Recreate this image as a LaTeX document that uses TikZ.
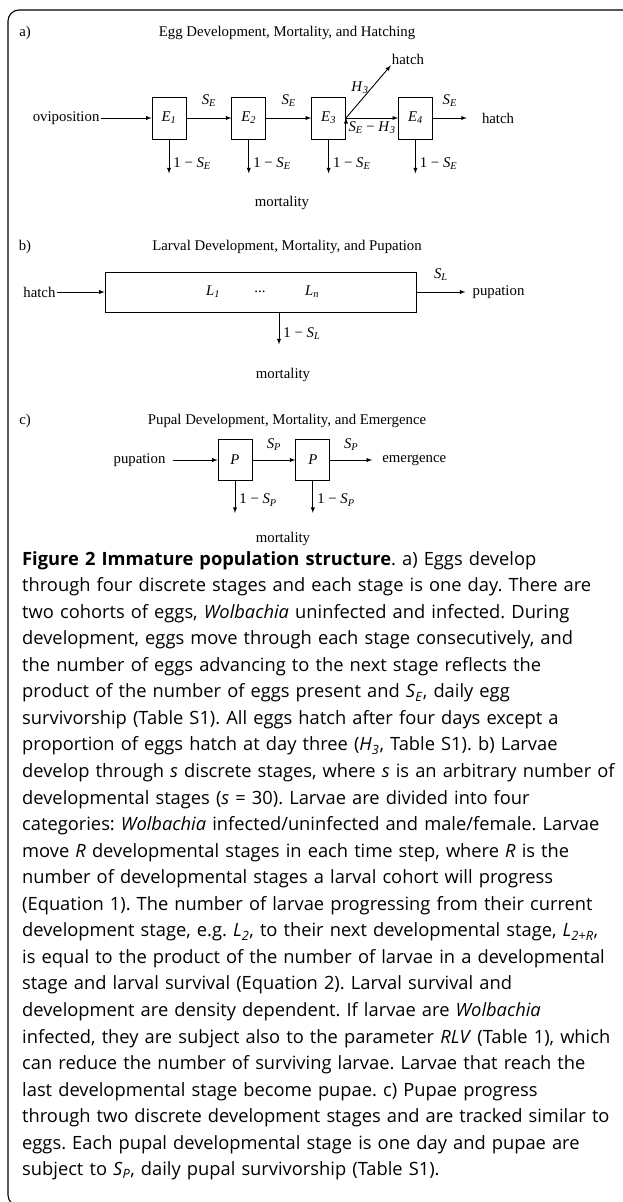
\documentclass[tikz,border=0pt]{standalone}
\usepackage{fontspec}
\setmainfont{Liberation Serif}
\newfontfamily\capfont{Open Sans}
\usetikzlibrary{arrows, positioning}
\newcommand{\qv}[2]{\textit{#1}\textsubscript{\textit{#2}}}

\begin{document}
\begin{tikzpicture}
    [
        x=1pt, y=-1pt, auto, >=latex, font=\fontsize{14.8}{17}\selectfont,
        box/.style={draw, line width=0.8pt, minimum width=34pt, minimum height=42pt, inner sep=0pt},
        longbox/.style={draw, line width=0.8pt, minimum width=311pt, minimum height=40pt, inner sep=0pt},
        txt/.style={inner sep=1pt},
        flowlabel/.style={inner sep=1pt}
    ]
    \tikzstyle{line} = [draw, line width=0.9pt, -latex,>=latex]

    \useasboundingbox (0,0) rectangle (623,1202);
    \draw[line width=1.1pt, rounded corners=11pt] (623,10) -- (8,10) -- (8,1206) -- (40,1206);

    % a) eggs
    \begin{scope}
        \node (lab_a) at (25,33) {a)};
        \node (title_a) at (287,33) {Egg Development, Mortality, and Hatching};
        \node[box] (E_1) at (169,118) {\qv{E}{1}};
        \node[box, right=45pt of E_1] (E_2) {\qv{E}{2}};
        \node[box, right=45pt of E_2] (E_3) {\qv{E}{3}};
        \node[box, right=52pt of E_3] (E_4) {\qv{E}{4}};
        \node[txt, left=51pt of E_1] (ovi) {oviposition};
        \coordinate[right=34pt of E_4] (E_end);
        \node[txt, right=14pt of E_end] (hatch_a) {hatch};
        \node[txt] (hatch_up) at (408,59) {hatch};
        \path[line] (ovi) edge (E_1);
        \path[line] (E_1) edge node[flowlabel, above=10pt] {\qv{S}{E}} (E_2);
        \path[line] (E_2) edge node[flowlabel, above=10pt] {\qv{S}{E}} (E_3);
        \path[line] (E_3) edge node[flowlabel, below=2pt] {\qv{S}{E} − \qv{H}{3}} (E_4);
        \path[line] (E_4) edge node[flowlabel, above=10pt] {\qv{S}{E}} (E_end);
        \path[line] (E_3.east) edge node[flowlabel, left=2pt, pos=0.58] {\qv{H}{3}} (hatch_up.south west);

        \coordinate[below=34pt of E_1] (E_1_down);
        \coordinate[below=34pt of E_2] (E_2_down);
        \coordinate[below=34pt of E_3] (E_3_down);
        \coordinate[below=34pt of E_4] (E_4_down);
        \path[line] (E_1) edge node[flowlabel, right=3pt, pos=0.7] {1 − \qv{S}{E}} (E_1_down);
        \path[line] (E_2) edge node[flowlabel, right=3pt, pos=0.7] {1 − \qv{S}{E}} (E_2_down);
        \path[line] (E_3) edge node[flowlabel, right=3pt, pos=0.7] {1 − \qv{S}{E}} (E_3_down);
        \path[line] (E_4) edge node[flowlabel, right=3pt, pos=0.7] {1 − \qv{S}{E}} (E_4_down);
        \node (mort_a) at (282,203) {mortality};
    \end{scope}

    % b) larvae
    \begin{scope}
        \node (lab_b) at (25,247) {b)};
        \node (title_b) at (287,247) {Larval Development, Mortality, and Pupation};
        \node[longbox] (larv) at (260.5,292) {};
        \node (L_1) at (213,292) {\qv{L}{1}};
        \node (L_dots) at (260,292) {...};
        \node (L_n) at (312,292) {\qv{L}{n}};
        \node[txt, left=48pt of larv] (hatch_b) {hatch};
        \coordinate[right=49pt of larv] (larv_end);
        \node[txt, right=6pt of larv_end] (pup_b) {pupation};
        \path[line] (hatch_b) edge (larv);
        \path[line] (larv) edge node[flowlabel, above=10pt] {\qv{S}{L}} (larv_end);
        \coordinate (larv_top) at ([xshift=18.5pt]larv.south);
        \coordinate[below=32pt of larv_top] (larv_down);
        \draw[line] (larv_top) -- node[flowlabel, right=3pt, pos=0.65] {1 − \qv{S}{L}} (larv_down);
        \node (mort_b) at (283,375) {mortality};
    \end{scope}

    % c) pupae
    \begin{scope}
        \node (lab_c) at (25,421) {c)};
        \node (title_c) at (287,421) {Pupal Development, Mortality, and Emergence};
        \node[box, minimum height=41pt] (P_1) at (235,460) {\textit{P}};
        \node[box, minimum height=41pt, right=43pt of P_1] (P_2) {\textit{P}};
        \node[txt, left=51pt of P_1] (pup_c) {pupation};
        \coordinate[right=42pt of P_2] (P_end);
        \node[txt, right=9pt of P_end] (emerge) {emergence};
        \path[line, shorten <=6pt] (pup_c) edge (P_1);
        \path[line] (P_1) edge node[flowlabel, above=8pt] {\qv{S}{P}} (P_2);
        \path[line] (P_2) edge node[flowlabel, above=8pt] {\qv{S}{P}} (P_end);

        \coordinate[below=32pt of P_1] (P_1_down);
        \coordinate[below=32pt of P_2] (P_2_down);
        \path[line] (P_1) edge node[flowlabel, right=3pt, pos=0.6] {1 − \qv{S}{P}} (P_1_down);
        \path[line] (P_2) edge node[flowlabel, right=3pt, pos=0.6] {1 − \qv{S}{P}} (P_2_down);
        \node (mort_c) at (283,539) {mortality};
    \end{scope}

    % caption
    \node[anchor=north west, inner sep=0pt, text width=598pt, align=left,
          font=\capfont\frenchspacing\fontsize{18.3}{26.55}\selectfont] (caption) at (22,551) {%
        \makebox[596pt][s]{\textbf{Figure 2 Immature population structure}. a) Eggs develop}\\
        through four discrete stages and each stage is one day. There are\\
        two cohorts of eggs, \textit{Wolbachia} uninfected and infected. During\\
        development, eggs move through each stage consecutively, and\\
        the number of eggs advancing to the next stage reflects the\\
        product of the number of eggs present and \qv{S}{E}, daily egg\\
        survivorship (Table S1). All eggs hatch after four days except a\\
        proportion of eggs hatch at day three (\qv{H}{3}, Table S1). b) Larvae\\
        develop through \textit{s} discrete stages, where \textit{s} is an arbitrary number of\\
        developmental stages (\textit{s} = 30). Larvae are divided into four\\
        categories: \textit{Wolbachia} infected/uninfected and male/female. Larvae\\
        move \textit{R} developmental stages in each time step, where \textit{R} is the\\
        number of developmental stages a larval cohort will progress\\
        (Equation 1). The number of larvae progressing from their current\\
        development stage, e.g. \qv{L}{2}, to their next developmental stage, \qv{L}{2+R},\\
        is equal to the product of the number of larvae in a developmental\\
        stage and larval survival (Equation 2). Larval survival and\\
        development are density dependent. If larvae are \textit{Wolbachia}\\
        infected, they are subject also to the parameter \textit{RLV} (Table 1), which\\
        can reduce the number of surviving larvae. Larvae that reach the\\
        last developmental stage become pupae. c) Pupae progress\\
        through two discrete development stages and are tracked similar to\\
        eggs. Each pupal developmental stage is one day and pupae are\\
        subject to \qv{S}{P}, daily pupal survivorship (Table S1).};

\end{tikzpicture}
\end{document}
